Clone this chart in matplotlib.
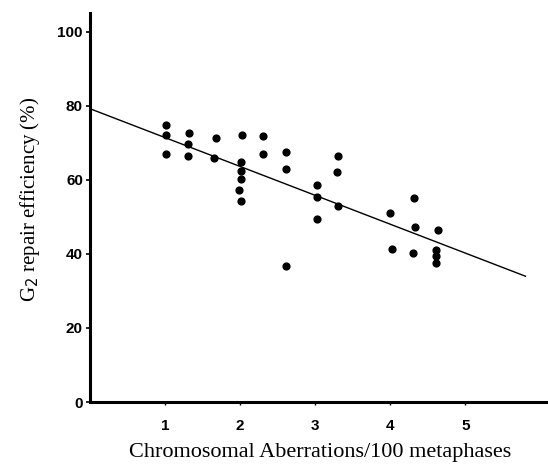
import matplotlib.pyplot as plt

# Chromosomal aberrations per 100 metaphases vs G2 repair efficiency (%)
aberrations = [1.01, 1.01, 1.01, 1.32, 1.31, 1.30, 1.68, 1.65,
               2.03, 2.01, 2.01, 2.01, 1.99, 2.01, 2.30, 2.31,
               2.61, 2.61, 2.61, 3.02, 3.02, 3.02, 3.31, 3.29, 3.31,
               3.99, 4.02, 4.32, 4.33, 4.30, 4.64, 4.61, 4.61, 4.61]
efficiency = [74.7, 72.0, 67.0, 72.6, 69.6, 66.3, 71.3, 65.8,
              72.2, 64.7, 62.3, 60.2, 57.3, 54.4, 71.7, 67.0,
              67.4, 62.9, 36.8, 58.5, 55.4, 49.5, 66.3, 62.2, 52.8,
              51.1, 41.2, 55.1, 47.3, 40.1, 46.5, 41.1, 39.5, 37.5]

# regression line
fit_x = [0.0, 5.8]
fit_intercept = 79.2
fit_slope = -7.8

fig = plt.figure(figsize=(5.48, 4.68), dpi=100)
ax = fig.add_axes([0.164, 0.141, 0.836, 0.831])

ax.scatter(aberrations, efficiency, s=24, color="black", zorder=3)
ax.plot(fit_x, [fit_intercept + fit_slope * x for x in fit_x],
        color="black", linewidth=1.0)

ax.set_xlim(0, 6.1)
ax.set_ylim(0, 105)
ax.set_xticks([1, 2, 3, 4, 5])
ax.set_yticks([0, 20, 40, 60, 80, 100])

for s in ["top", "right"]:
    ax.spines[s].set_visible(False)
for s in ["left", "bottom"]:
    ax.spines[s].set_linewidth(2.2)

ax.tick_params(axis="y", length=3, width=1.2, pad=2)
ax.tick_params(axis="x", length=2, width=1.0, pad=10)
for lab in ax.get_xticklabels() + ax.get_yticklabels():
    lab.set_fontfamily("Liberation Sans")
    lab.set_fontweight("bold")
    lab.set_fontsize(11)

ax.set_xlabel("Chromosomal Aberrations/100 metaphases",
              fontfamily="Liberation Serif", fontsize=16)
ax.xaxis.set_label_coords(0.503, -0.105)
ax.set_ylabel("G$_2$ repair efficiency (%)",
              fontfamily="Liberation Serif", fontsize=15)
ax.yaxis.set_label_coords(-0.105, 0.52)

plt.savefig("out.png", dpi=100)
